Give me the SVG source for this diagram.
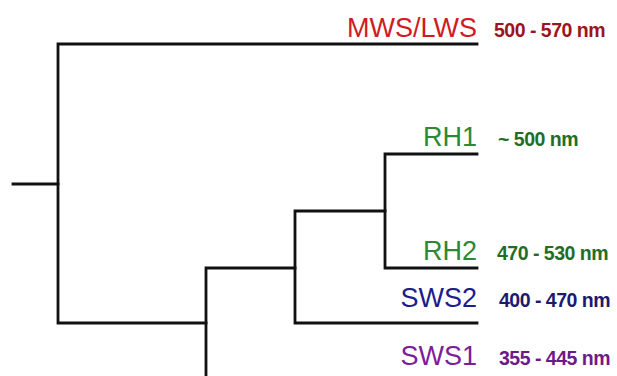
<svg xmlns="http://www.w3.org/2000/svg" width="617" height="376" viewBox="0 0 617 376">
  <style>
    .branch { fill: none; stroke: #111; stroke-width: 2.8; stroke-linecap: square; }
    .name { font-family: "Liberation Sans", Arial, sans-serif; font-size: 27px; text-anchor: end; }
    .range { font-family: "Liberation Sans", Arial, sans-serif; font-size: 19.5px; font-weight: bold; letter-spacing: -0.5px; }
    .lws { fill: #d11a24; }
    .lws-r { fill: #9c1420; }
    .rh { fill: #2a8a34; }
    .rh-r { fill: #1f6e27; }
    .sws2 { fill: #1c1c8e; }
    .sws2-r { fill: #1a1a70; }
    .sws1 { fill: #7d1c9c; }
    .sws1-r { fill: #6c1a8a; }
  </style>
  <rect width="617" height="376" fill="#ffffff"/>

  <!-- tree branches -->
  <g id="connectors">
    <path class="branch" d="M13,184 H58"/>
    <path class="branch" d="M477,44 H58 V323 H206"/>
    <path class="branch" d="M206,376 V268 H295"/>
    <path class="branch" d="M477,323 H295 V211 H385"/>
    <path class="branch" d="M477,154 H385 V268 H477"/>
  </g>

  <!-- leaves -->
  <g id="mws-lws">
    <text class="name lws" x="477" y="37">MWS/LWS</text>
    <text class="range lws-r" x="494" y="37">500 - 570 nm</text>
  </g>
  <g id="rh1">
    <text class="name rh" x="477" y="146">RH1</text>
    <text class="range rh-r" x="498" y="146">~ 500 nm</text>
  </g>
  <g id="rh2">
    <text class="name rh" x="477" y="260">RH2</text>
    <text class="range rh-r" x="497" y="260">470 - 530 nm</text>
  </g>
  <g id="sws2">
    <text class="name sws2" x="477" y="307">SWS2</text>
    <text class="range sws2-r" x="499" y="307">400 - 470 nm</text>
  </g>
  <g id="sws1">
    <text class="name sws1" x="477" y="365">SWS1</text>
    <text class="range sws1-r" x="499" y="365">355 - 445 nm</text>
  </g>
</svg>
